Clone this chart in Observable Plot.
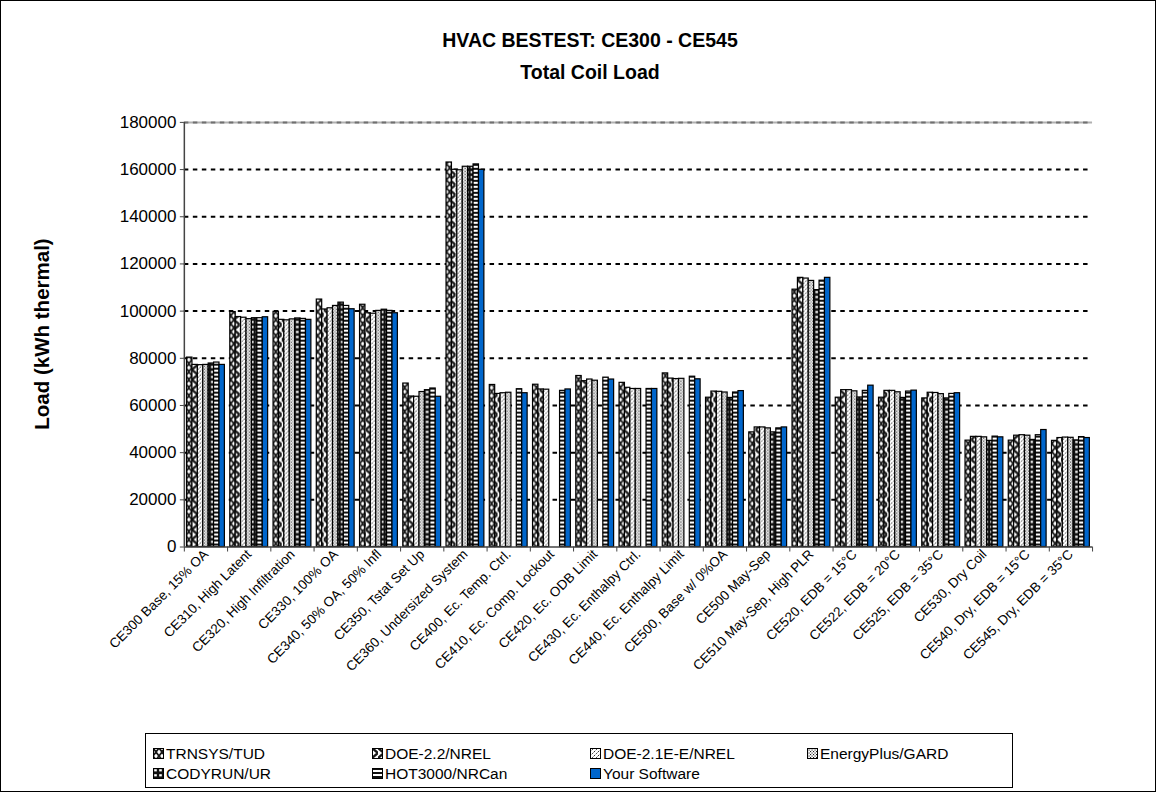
<!DOCTYPE html>
<html>
<head>
<meta charset="utf-8">
<script src="https://cdn.jsdelivr.net/npm/d3@7"></script>
<script src="https://cdn.jsdelivr.net/npm/@observablehq/plot@0.6"></script>
<style>
html, body { margin: 0; padding: 0; background: #fff; }
#wrap { position: relative; width: 1156px; height: 792px; box-sizing: border-box; border: 1px solid #000; overflow: hidden; font-family: Arial, "Liberation Sans", sans-serif; color: #000; }
#title { position: absolute; left: 289px; width: 600px; top: 23px; text-align: center; font-weight: bold; font-size: 19.5px; line-height: 32px; }
#ylabel { position: absolute; left: 41px; top: 333px; transform: translate(-50%, -50%) rotate(-90deg); font-weight: bold; font-size: 20.5px; white-space: nowrap; }
#chart { position: absolute; left: -1px; top: -1px; }
#legend { position: absolute; left: 144px; top: 732px; width: 868px; height: 55px; box-sizing: border-box; border: 1px solid #000; background: #fff; }
.item { position: absolute; display: flex; align-items: center; font-size: 15.5px; line-height: 19px; white-space: nowrap; }
.item svg { margin-right: 2px; }
</style>
</head>
<body>
<svg width="0" height="0" style="position:absolute">
  <defs>
    <pattern id="pTrnsys" patternUnits="userSpaceOnUse" width="6" height="8">
      <rect width="6" height="8" fill="#fff"/>
      <path d="M0,0 L3,4 L0,8 M6,0 L3,4 L6,8" stroke="#1a1a1a" stroke-width="1.8" fill="none"/>
    </pattern>
    <pattern id="pDoe22" patternUnits="userSpaceOnUse" width="6" height="10">
      <rect width="6" height="10" fill="#fff"/>
      <path d="M0,0 L6,5 L0,10" stroke="#1a1a1a" stroke-width="2.4" fill="none"/>
    </pattern>
    <pattern id="pDoe21" patternUnits="userSpaceOnUse" width="4" height="4">
      <rect width="4" height="4" fill="#fff"/>
      <path d="M0,4 L4,0" stroke="#333" stroke-width="1" stroke-dasharray="1.5 1" fill="none"/>
    </pattern>
    <pattern id="pEplus" patternUnits="userSpaceOnUse" width="3" height="3">
      <rect width="3" height="3" fill="#fff"/>
      <rect x="0" y="0" width="1.1" height="1.1" fill="#222"/>
      <rect x="1.5" y="1.5" width="1.1" height="1.1" fill="#222"/>
    </pattern>
    <pattern id="pCody" patternUnits="userSpaceOnUse" width="5" height="5">
      <rect width="5" height="5" fill="#111"/>
      <rect x="1.2" y="1.2" width="2.6" height="2.2" fill="#fff"/>
    </pattern>
    <pattern id="pHot" patternUnits="userSpaceOnUse" width="4" height="4">
      <rect width="4" height="4" fill="#fff"/>
      <rect x="0" y="0" width="4" height="2" fill="#111"/>
    </pattern>
  </defs>
</svg>
<div id="wrap">
  <div id="title">HVAC BESTEST: CE300 - CE545<br>Total Coil Load</div>
  <div id="ylabel">Load (kWh thermal)</div>
  <div id="chart"></div>
  <div id="legend"></div>
</div>
<script>
// ---- data ----
const categories = [
  "CE300 Base, 15% OA", "CE310, High Latent", "CE320, High Infiltration", "CE330, 100% OA",
  "CE340, 50% OA, 50% Infl", "CE350, Tstat Set Up", "CE360, Undersized System",
  "CE400, Ec. Temp. Ctrl.", "CE410, Ec. Comp. Lockout", "CE420, Ec. ODB Limit",
  "CE430, Ec. Enthalpy Ctrl.", "CE440, Ec. Enthalpy Limit", "CE500, Base w/ 0%OA",
  "CE500 May-Sep", "CE510 May-Sep, High PLR", "CE520, EDB = 15°C", "CE522, EDB = 20°C",
  "CE525, EDB = 35°C", "CE530, Dry Coil", "CE540, Dry, EDB = 15°C", "CE545, Dry, EDB = 35°C"
];
const series = ["TRNSYS/TUD", "DOE-2.2/NREL", "DOE-2.1E-E/NREL", "EnergyPlus/GARD", "CODYRUN/UR", "HOT3000/NRCan", "Your Software"];

const trnsysTud      = [80300, 99600, 99700, 104900, 102700, 69300, 163000, 68700, 68800, 72500, 69600, 73600, 63300, 48600, 109100, 63300, 63300, 63000, 45100, 45100, 45000];
const doe22Nrel      = [77200, 97500, 96300, 100700, 99100, 63800, 159900, 64900, 66800, 70300, 67500, 71400, 65900, 50700, 114100, 66500, 66200, 65400, 46700, 47200, 46200];
const doe21eNrel     = [77100, 97200, 96100, 101200, 98900, 63700, 159700, 65200, 66700, 71000, 67000, 71200, 65800, 50700, 113800, 66500, 66200, 65300, 46700, 47400, 46400];
const energyPlusGard = [77200, 96600, 96500, 102200, 100100, 65700, 161200, 65400, null, 70500, 67000, 71300, 65500, 50300, 112800, 66000, 65600, 64800, 46500, 47200, 46300];
const codyrunUr      = [77800, 97000, 96900, 103600, 100600, 66500, 161200, null, null, null, null, null, 63200, 48600, 108900, 63400, 63200, 63000, 45000, 45400, 45200];
const hot3000NrCan   = [78200, 97000, 96700, 102200, 100100, 67200, 162200, 66900, 66200, 71800, 67000, 72200, 65500, 50300, 112900, 66200, 65900, 64900, 46800, 47400, 46600];
const yourSoftware   = [77200, 97400, 96300, 100800, 99100, 63700, 159900, 65200, 66800, 71000, 67000, 71100, 66100, 50700, 114100, 68400, 66300, 65200, 46500, 49600, 46200];

const yTicks = [0, 20000, 40000, 60000, 80000, 100000, 120000, 140000, 160000, 180000];
const fills = ["url(#pTrnsys)", "url(#pDoe22)", "url(#pDoe21)", "url(#pEplus)", "url(#pCody)", "url(#pHot)", "#0066CC"];

// ---- table ----
const seriesValues = [trnsysTud, doe22Nrel, doe21eNrel, energyPlusGard, codyrunUr, hot3000NrCan, yourSoftware];
const rows = [];
categories.forEach((c, i) => {
  seriesValues.forEach((vals, j) => {
    if (vals[i] != null) rows.push({category: c, ci: i, series: series[j], sj: j, value: vals[i]});
  });
});
const nSlots = series.length + 1; // one bar-width of gap per category
const yMax = yTicks[yTicks.length - 1];

const chart = Plot.plot({
  width: 1156,
  height: 720,
  marginLeft: 184,
  marginRight: 63,
  marginTop: 122,
  marginBottom: 173,
  style: {fontFamily: 'Arial, "Liberation Sans", sans-serif', background: "transparent", color: "#000", overflow: "visible"},
  x: {domain: [0, categories.length]},
  y: {domain: [0, yMax]},
  color: {domain: series, range: fills},
  marks: [
    Plot.ruleY([yMax], {stroke: "#b0b0b0", strokeWidth: 2}),
    Plot.ruleY([yMax], {stroke: "#707070", strokeWidth: 2, strokeDasharray: "4.5 4.5"}),
    Plot.gridY(yTicks.slice(1, -1), {stroke: "#000", strokeOpacity: 1, strokeWidth: 2, strokeDasharray: "4.5 4.5"}),
    Plot.rect(rows, {
      x1: d => d.ci + (d.sj + 0.5) / nSlots,
      x2: d => d.ci + (d.sj + 1.5) / nSlots,
      y1: 0,
      y2: "value",
      fill: "series",
      stroke: "#000",
      strokeWidth: 1.2
    }),
    Plot.ruleY([0], {stroke: "#444", strokeWidth: 1.5}),
    Plot.ruleX([0], {stroke: "#444", strokeWidth: 1.5}),
    Plot.axisY({ticks: yTicks, tickSize: 4, tickPadding: 4, tickFormat: d => String(d), fontSize: 17, label: null, stroke: "#444"}),
    Plot.axisX({ticks: d3.range(categories.length + 1), tickSize: 5, tickFormat: () => "", label: null, stroke: "#444"}),
    Plot.axisX({
      ticks: categories.map((_, i) => i + 0.5),
      tickFormat: d => categories[Math.floor(d)],
      tickRotate: -45,
      tickSize: 0,
      tickPadding: 5,
      fontSize: 13.5,
      label: null
    })
  ]
});
document.getElementById("chart").appendChild(chart);

// ---- legend ----
const legend = document.getElementById("legend");
const colX = [7, 226, 444, 661];
series.forEach((s, j) => {
  const item = document.createElement("div");
  item.className = "item";
  item.style.left = colX[j % 4] + "px";
  item.style.top = (j < 4 ? 10 : 30) + "px";
  item.innerHTML = `<svg width="11" height="11"><rect x="0.5" y="0.5" width="10" height="10" fill="${fills[j]}" stroke="#000"/></svg><span>${s}</span>`;
  legend.appendChild(item);
});
</script>
</body>
</html>
